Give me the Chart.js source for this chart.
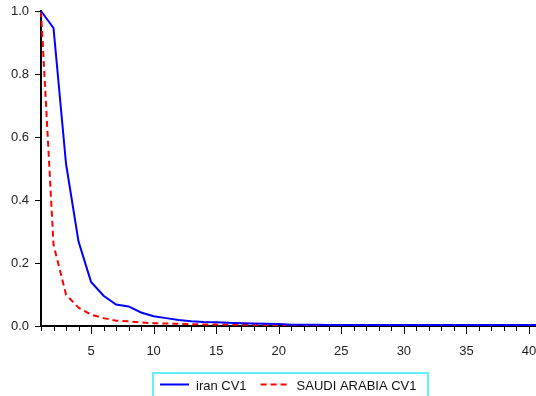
<!DOCTYPE html>
<html>
<head>
<meta charset="utf-8">
<script src="https://cdn.jsdelivr.net/npm/chart.js@4/dist/chart.umd.min.js"></script>
<style>
  html, body { margin: 0; padding: 0; background: #fff; }
  #wrap { width: 536px; height: 396px; }
</style>
</head>
<body>
<div id="wrap"><canvas id="myChart" width="536" height="396"></canvas></div>
<script>
const periods = [];
for (let i = 1; i <= 41; i++) periods.push(i);

const iranCV1 = [1.0, 0.946, 0.515, 0.268, 0.140, 0.096, 0.068, 0.062, 0.043, 0.031,
    0.025, 0.019, 0.015, 0.013, 0.012, 0.010, 0.009, 0.008, 0.007, 0.006,
    0.004, 0.004, 0.004, 0.003, 0.003, 0.003, 0.003, 0.003, 0.003, 0.003,
    0.003, 0.003, 0.003, 0.003, 0.003, 0.003, 0.003, 0.003, 0.003, 0.003, 0.003];

const saudiCV1 = [1.0, 0.258, 0.100, 0.058, 0.036, 0.025, 0.017, 0.015, 0.011, 0.009,
    0.008, 0.007, 0.006, 0.005, 0.005, 0.004, 0.004, 0.004, 0.003, 0.003,
    0.003, 0.003, 0.003, 0.003, 0.003, 0.003, 0.003, 0.003, 0.003, 0.003,
    0.003, 0.003, 0.003, 0.003, 0.003, 0.003, 0.003, 0.003, 0.003, 0.003, 0.003];

const yTicks = [0, 0.2, 0.4, 0.6, 0.8, 1.0];

const ctx = document.getElementById('myChart');

// tick marks and the boxed legend are drawn by hand (EViews look)
const eviewsBits = {
    id: 'eviewsBits',
    afterDraw(chart) {
        const c = chart.ctx;
        const xs = chart.scales.x, ys = chart.scales.y;
        const area = chart.chartArea;
        c.save();
        c.strokeStyle = '#000';
        c.lineWidth = 1;
        c.beginPath();
        periods.forEach(p => {
            if (p > xs.max) return;
            const px = Math.round(xs.getPixelForValue(p)) + 0.5;
            const len = p % 5 === 0 ? 8 : 5;
            c.moveTo(px, area.bottom);
            c.lineTo(px, area.bottom + len);
        });
        yTicks.forEach(v => {
            const py = Math.round(ys.getPixelForValue(v)) + 0.5;
            c.moveTo(area.left, py);
            c.lineTo(area.left - 6, py);
        });
        c.stroke();

        // legend
        c.strokeStyle = '#5ff0f8';
        c.lineWidth = 2;
        c.strokeRect(153, 373, 275, 30);
        c.font = '13px "Liberation Sans", Arial, sans-serif';
        c.textBaseline = 'middle';
        c.fillStyle = '#111';
        let x = 160;
        chart.data.datasets.forEach(ds => {
            c.strokeStyle = ds.borderColor;
            c.lineWidth = ds.borderWidth;
            c.setLineDash(ds.borderDash || []);
            c.beginPath();
            c.moveTo(x, 384.5);
            c.lineTo(x + 29, 384.5);
            c.stroke();
            c.setLineDash([]);
            c.fillText(ds.label, x + 36, 386);
            x += 36 + c.measureText(ds.label).width + 14;
        });
        c.restore();
    }
};

const chart = new Chart(ctx, {
    type: 'line',
    data: {
        labels: periods,
        datasets: [
            {
                label: 'iran CV1',
                data: iranCV1,
                borderColor: '#0000ff',
                borderWidth: 2,
                pointRadius: 0,
                tension: 0,
                clip: false
            },
            {
                label: 'SAUDI ARABIA CV1',
                data: saudiCV1,
                borderColor: '#ff0000',
                borderWidth: 2,
                borderDash: [6, 4],
                pointRadius: 0,
                tension: 0,
                clip: false
            }
        ]
    },
    options: {
        responsive: false,
        animation: false,
        events: [],
        layout: { padding: { top: 11, left: 0, right: 0, bottom: 0 } },
        plugins: {
            legend: { display: false },
            tooltip: { enabled: false }
        },
        scales: {
            x: {
                type: 'linear',
                min: 1,
                max: 40.56,
                afterFit: s => { s.height = 70; s.paddingLeft = 0; s.paddingRight = 0; },
                grid: { drawOnChartArea: false, drawTicks: false },
                border: { color: '#000', width: 2 },
                ticks: {
                    stepSize: 1,
                    includeBounds: false,
                    autoSkip: false,
                    maxRotation: 0,
                    padding: 18,
                    color: '#222',
                    font: { family: '"Liberation Sans", Arial, sans-serif', size: 13 },
                    callback: v => (v % 5 === 0 ? v : '')
                }
            },
            y: {
                min: 0,
                max: 1,
                afterFit: s => { s.width = 41; s.paddingTop = 0; s.paddingBottom = 0; },
                grid: { drawOnChartArea: false, drawTicks: false },
                border: { color: '#000', width: 2 },
                ticks: {
                    stepSize: 0.2,
                    padding: 12,
                    color: '#222',
                    font: { family: '"Liberation Sans", Arial, sans-serif', size: 13 },
                    callback: v => v.toFixed(1)
                }
            }
        }
    },
    plugins: [eviewsBits]
});
</script>
</body>
</html>
